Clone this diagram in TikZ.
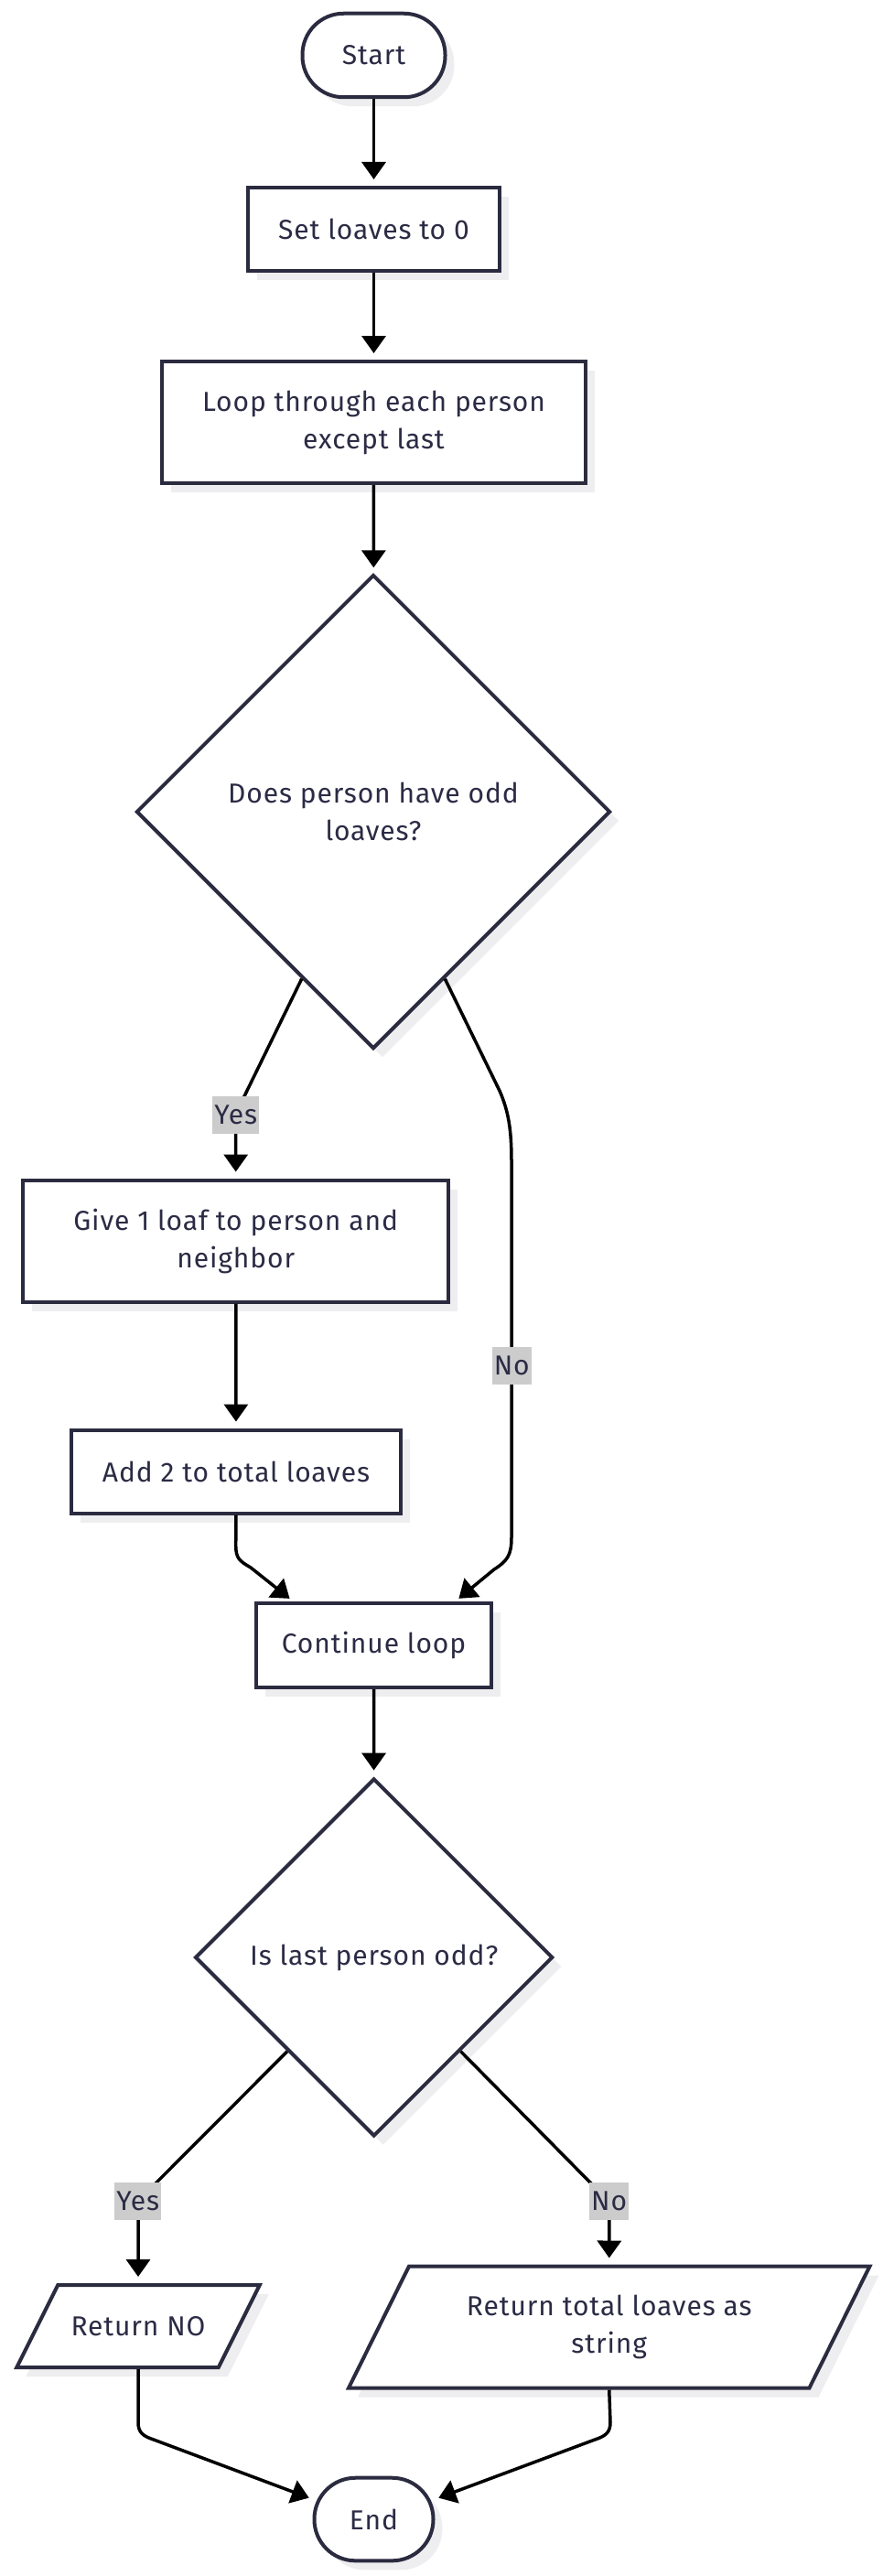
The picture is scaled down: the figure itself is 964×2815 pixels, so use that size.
\documentclass[tikz,border=0pt]{standalone}
\usepackage{fontspec}
\setmainfont[LetterSpace=3]{Fira Sans}
\usetikzlibrary{shapes.geometric,shadows,arrows.meta,calc}
\definecolor{bord}{HTML}{2B2B40}
\definecolor{txt}{HTML}{2B2B45}
\definecolor{lbl}{HTML}{CCCCCC}
\definecolor{shd}{HTML}{EEEEF0}
\begin{document}
\begin{tikzpicture}[x=1pt,y=-1pt,
  shdw/.style={drop shadow={shadow xshift=10pt, shadow yshift=-10pt, fill=shd, opacity=1}},
  base/.style={draw=bord, line width=4pt, fill=white, text=txt,
    font=\fontsize{30}{41}\selectfont, align=center, inner sep=0pt, shdw},
  proc/.style={base, rectangle},
  term/.style={base, rectangle, rounded corners=45pt},
  dec/.style={base, diamond},
  iobox/.style={draw=bord, line width=4pt, fill=white, line join=miter, shdw},
  iotext/.style={rectangle, text=txt, font=\fontsize{30}{41}\selectfont, align=center, inner sep=0pt, outer sep=2pt},
  arr/.style={line width=3.5pt, black, -{Triangle[width=26pt,length=19pt]}},
  lab/.style={fill=lbl, text=txt, font=\fontsize{30}{41}\selectfont, inner xsep=2pt, inner ysep=0pt, minimum height=41pt}
]
\useasboundingbox (0,0) rectangle (964,2815);
\fill[white] (0,0) rectangle (964,2815);

\node[term, minimum width=156pt, minimum height=91.5pt] (start) at (408.5,60.5) {Start};
\node[proc, minimum width=275.6pt, minimum height=91pt] (set) at (408.5,250.5) {Set loaves to 0};
\node[proc, minimum width=463.5pt, minimum height=133pt] (loop) at (408.5,461.5) {Loop through each person\\except last};
\node[dec, minimum width=518pt, minimum height=518pt] (d1) at (408,887) {Does person have odd\\loaves?};
\node[proc, minimum width=465pt, minimum height=133pt] (give) at (257.7,1356) {Give 1 loaf to person and\\neighbor};
\node[proc, minimum width=360pt, minimum height=91pt] (add) at (258,1608) {Add 2 to total loaves};
\node[proc, minimum width=257pt, minimum height=92pt] (cont) at (408.5,1798) {Continue loop};
\node[dec, minimum width=391pt, minimum height=391pt] (d2) at (408.7,2139) {Is last person odd?};

\draw[iobox] (18.25,2587) -- (63.25,2497) -- (283.75,2497) -- (238.75,2587) -- cycle;
\node[iotext, minimum width=265.5pt, minimum height=90pt] (retno) at (151,2542) {Return NO};
\draw[iobox] (381,2609.5) -- (447,2476.5) -- (950.5,2476.5) -- (884.5,2609.5) -- cycle;
\node[iotext, minimum width=569.5pt, minimum height=133pt] (rettot) at (665.75,2543) {Return total loaves as\\string};

\node[term, minimum width=130pt, minimum height=90.6pt] (end) at (408.5,2753) {End};

\draw[arr, shorten >=7pt] (start) -- (set);
\draw[arr, shorten >=7pt] (set) -- (loop);
\draw[arr, shorten >=6pt] (loop) -- (d1);
\draw[arr, shorten >=7pt] ($(d1.south)!0.3!(d1.west)$) -- (266,1200) .. controls (258,1218) .. (257.7,1240) -- (give.north);
\draw[arr, shorten >=7pt] (give) -- (add);
\draw[arr, shorten >=5pt] ($(d1.south)!0.3!(d1.east)$) -- (546,1192) .. controls (556,1215) and (559,1235) .. (559,1270) -- (559,1680) .. controls (559,1700) and (554,1706) .. (540,1715) -- ($(cont.north)+(89,0)$);
\draw[arr, shorten >=5pt] (add.south) -- (257.7,1689) .. controls (257.7,1703) and (262,1706) .. (274,1713) -- ($(cont.north)+(-88,0)$);
\draw[arr, shorten >=7pt] (cont) -- (d2);
\draw[arr, shorten >=7pt] ($(d2.south)!0.48!(d2.west)$) -- (166,2390) .. controls (152,2404) .. (151,2420) -- (retno.north);
\draw[arr, shorten >=7pt] ($(d2.south)!0.48!(d2.east)$) -- (650,2390) .. controls (665,2404) .. (666,2420) -- (rettot.north);
\draw[arr, shorten >=4pt] (retno.south) -- (151,2647) .. controls (151,2658) and (156,2662) .. (168,2666) -- ($(end.west)+(0,-22)$);
\draw[arr, shorten >=4pt] (rettot.south) -- (667,2647) .. controls (667,2658) and (662,2662) .. (650,2666) -- ($(end.east)+(0,-22)$);

\node[lab] (ly1) at (257.7,1218.7) {Yes};
\node[lab] (ln1) at (559.3,1492.5) {No};
\node[lab] (ly2) at (150.8,2405) {Yes};
\node[lab] (ln2) at (665.6,2405) {No};
\end{tikzpicture}
\end{document}
